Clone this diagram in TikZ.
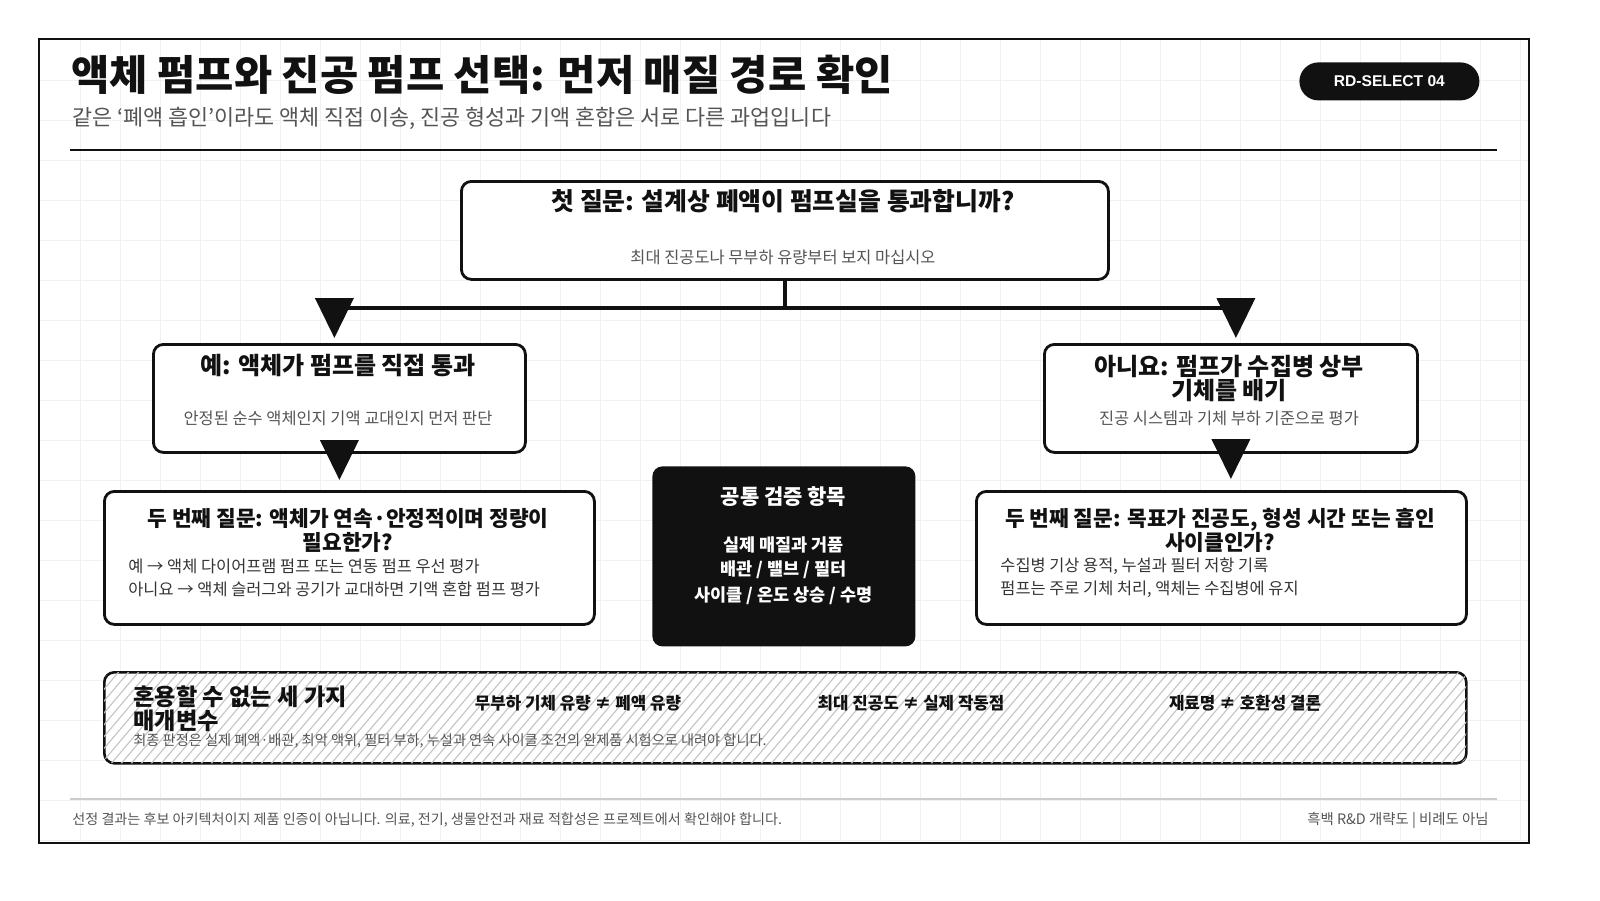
\documentclass[tikz,border=0pt]{standalone}
\usepackage{fontspec}
\setmainfont{Noto Sans CJK KR}
\newfontfamily\latsans{Liberation Sans}
\usetikzlibrary{arrows.meta}
\definecolor{ink}{HTML}{111111}
\definecolor{mute}{HTML}{555555}
\definecolor{gridc}{HTML}{F1F1F1}
\definecolor{rulec}{HTML}{CCCCCC}
\definecolor{hatchc}{HTML}{C4C4C4}
\begin{document}
\begin{tikzpicture}[x=0.5pt,y=-0.5pt,
  box/.style={draw=ink, line width=1.4pt, rounded corners=5pt, fill=white, inner sep=0pt, anchor=north west},
  darkbox/.style={fill=ink, rounded corners=5pt, inner sep=0pt, anchor=north west},
  conn/.style={draw=ink, line width=2pt},
  tip/.style={conn, -{Triangle[length=20pt,width=19pt]}},
  gridl/.style={draw=gridc, line width=0.5pt},
  hatchl/.style={draw=hatchc, line width=0.55pt},
  ttl/.style={font=\bfseries\fontsize{12}{12}\selectfont, text=ink, align=center, inner sep=0pt},
  ttlb/.style={font=\bfseries\fontsize{10.7}{12}\selectfont, text=ink, align=center, inner sep=0pt},
  sub/.style={font=\fontsize{8.2}{9}\selectfont, text=mute, inner sep=0pt},
  body/.style={font=\fontsize{8.2}{9}\selectfont, text=ink!85, inner sep=0pt, anchor=west},
  wt/.style={font=\bfseries\fontsize{8.75}{10}\selectfont, text=white, inner sep=0pt},
  item/.style={font=\bfseries\fontsize{8.4}{10}\selectfont, text=ink, inner sep=0pt},
  foot/.style={font=\fontsize{7.05}{8}\selectfont, text=mute, inner sep=0pt}
]
\fill[white] (0,0) rectangle (1600,900);
% grid
\foreach \gx in {80,120,...,1520} \draw[gridl] (\gx,40) -- (\gx,842);
\foreach \gy in {80,120,...,840} \draw[gridl] (40,\gy) -- (1528,\gy);
% frame
\draw[ink, line width=1.1pt] (39,39) rectangle (1529,843);

% header
\node[font=\bfseries\fontsize{20.8}{22}\selectfont, text=ink, anchor=west, inner sep=0pt] (title) at (71,75) {액체 펌프와 진공 펌프 선택: 먼저 매질 경로 확인};
\node[font=\fontsize{10.9}{12}\selectfont, text=mute, anchor=west, inner sep=0pt] (subtitle) at (72,118) {같은 ‘폐액 흡인’이라도 액체 직접 이송, 진공 형성과 기액 혼합은 서로 다른 과업입니다};
\node[fill=ink, rounded corners=9.5pt, minimum width=90pt, minimum height=19pt, inner sep=0pt, anchor=north west, text=white, font=\latsans\bfseries\fontsize{7.8}{9}\selectfont] (badge) at (1299,62) {RD-SELECT 04};
\draw[ink, line width=1.4pt] (70,150) -- (1497,150);

% boxes
\node[box, minimum width=323.5pt, minimum height=49pt] (top) at (460,180) {};
\node[box, minimum width=186pt, minimum height=54pt] (yes) at (152,343) {};
\node[box, minimum width=186.5pt, minimum height=54pt] (no) at (1043,343) {};
\node[box, minimum width=245pt, minimum height=66.5pt] (q2l) at (103,490) {};
\node[box, minimum width=245pt, minimum height=66.5pt] (q2r) at (975,490) {};
\node[darkbox, minimum width=131.5pt, minimum height=90pt] (common) at (652,466) {};
\node[box, line width=1.3pt, minimum width=681pt, minimum height=45.5pt] (bottom) at (103,671) {};
\begin{scope}
  \clip[rounded corners=4.5pt] ([xshift=0.6pt,yshift=-0.6pt]bottom.north west) rectangle ([xshift=-0.6pt,yshift=0.6pt]bottom.south east);
  \foreach \hx in {-100,-90,...,1480} \draw[hatchl] (\hx,765) -- (\hx+82,668);
\end{scope}

% top box text
\node[ttl, font=\bfseries\fontsize{12.4}{13}\selectfont] (topt) at (783,201) {첫 질문: 설계상 폐액이 펌프실을 통과합니까?};
\node[sub] (tops) at (783,257) {최대 진공도나 무부하 유량부터 보지 마십시오};

% yes / no
\node[ttl] (yest) at (338,366) {예: 액체가 펌프를 직접 통과};
\node[sub] (yess) at (338,418) {안정된 순수 액체인지 기액 교대인지 먼저 판단};
\node[ttl] (not) at (1229,378) {아니요: 펌프가 수집병 상부\\기체를 배기};
\node[sub] (nos) at (1229,418) {진공 시스템과 기체 부하 기준으로 평가};

% second questions
\node[ttlb] (q2lt) at (348,530) {두 번째 질문: 액체가 연속·안정적이며 정량이\\필요한가?};
\node[body] (q2lb1) at (128,566) {예 → 액체 다이어프램 펌프 또는 연동 펌프 우선 평가};
\node[body] (q2lb2) at (128,589) {아니요 → 액체 슬러그와 공기가 교대하면 기액 혼합 펌프 평가};
\node[ttlb] (q2rt) at (1220,530) {두 번째 질문: 목표가 진공도, 형성 시간 또는 흡인\\사이클인가?};
\node[body] (q2rb1) at (1000,566) {수집병 기상 용적, 누설과 필터 저항 기록};
\node[body] (q2rb2) at (1000,589) {펌프는 주로 기체 처리, 액체는 수집병에 유지};

% common box text
\node[wt, font=\bfseries\fontsize{10.5}{11}\selectfont] (ct) at (783.5,497) {공통 검증 항목};
\node[wt] (c1) at (783.5,545) {실제 매질과 거품};
\node[wt] (c2) at (783.5,570) {배관 / 밸브 / 필터};
\node[wt] (c3) at (783.5,596) {사이클 / 온도 상승 / 수명};

% bottom box text
\node[font=\bfseries\fontsize{11.6}{12}\selectfont, text=ink, align=left, anchor=west, inner sep=0pt] (bt) at (133,709) {혼용할 수 없는 세 가지\\매개변수};
\node[item] (b1) at (578,703) {무부하 기체 유량 ≠ 폐액 유량};
\node[item] (b2) at (911,703) {최대 진공도 ≠ 실제 작동점};
\node[item] (b3) at (1245,703) {재료명 ≠ 호환성 결론};
\node[font=\fontsize{7.1}{8}\selectfont, text=mute, anchor=west, inner sep=0pt] (bn) at (133,741) {최종 판정은 실제 폐액·배관, 최악 액위, 필터 부하, 누설과 연속 사이클 조건의 완제품 시험으로 내려야 합니다.};

% connectors
\draw[conn] (top.south) -- ++(0,27) coordinate (mid);
\draw[conn] ([xshift=-2.5pt]yes.north |- mid) -- ([xshift=2.5pt]no.north |- mid);
\draw[tip] ([xshift=-2.5pt]yes.north |- mid) -- ([xshift=-2.5pt,yshift=2.5pt]yes.north);
\draw[tip] ([xshift=2.5pt]no.north |- mid) -- ([xshift=2.5pt,yshift=2.5pt]no.north);
\draw[tip] (yes.south) -- ([yshift=5pt]q2l.north -| yes.south);
\draw[tip] (no.south) -- ([yshift=5.5pt]q2r.north -| no.south);

% footer
\draw[rulec, line width=1pt] (70,799) -- (1497,799);
\node[foot, anchor=west] (fl) at (72,820) {선정 결과는 후보 아키텍처이지 제품 인증이 아닙니다. 의료, 전기, 생물안전과 재료 적합성은 프로젝트에서 확인해야 합니다.};
\node[foot, anchor=east, font=\fontsize{7.2}{8}\selectfont] (fr) at (1489,820) {흑백 R\&D 개략도 | 비례도 아님};

\pgfresetboundingbox
\path[use as bounding box] (0,0) rectangle (1600,900);
\end{tikzpicture}
\end{document}
